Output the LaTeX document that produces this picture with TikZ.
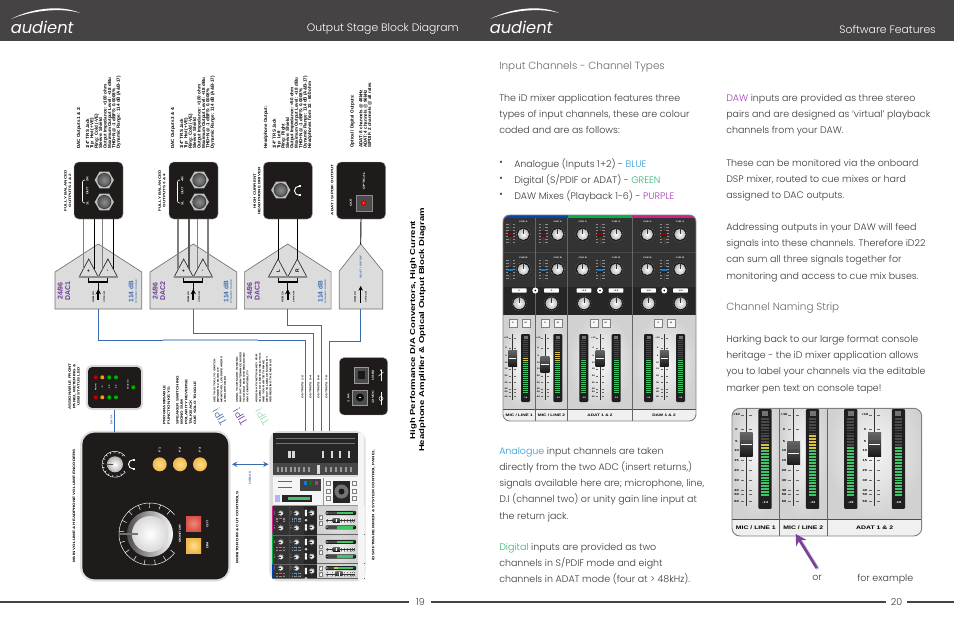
\documentclass[tikz,border=0pt]{standalone}
\usepackage{fontspec}
\setmainfont{Poppins}[UprightFont=* Light,ItalicFont=* Italic,BoldFont=* Medium]
\newfontfamily\armfont{Liberation Sans}[FakeStretch=1.35]
\newfontfamily\rawfont{Liberation Sans}
\usetikzlibrary{arrows.meta,calc}

\definecolor{headgrey}{HTML}{464344}
\definecolor{bodygrey}{HTML}{3A3A3A}
\definecolor{headline}{HTML}{6A6A6A}
\definecolor{panelblack}{HTML}{1E1B1A}
\definecolor{wireblue}{HTML}{3A6DAF}
\definecolor{pentagrey}{HTML}{DCDCDC}
\definecolor{dacpurple}{HTML}{6B3A96}
\definecolor{textblue}{HTML}{2E9BD6}
\definecolor{textgreen}{HTML}{2FB56E}
\definecolor{textpurple}{HTML}{A63DB8}
\definecolor{tipgreen}{HTML}{86E3A6}
\definecolor{metregrn}{HTML}{3FC46A}
\definecolor{metreyel}{HTML}{E0C040}
\definecolor{metreoff}{HTML}{4A4A4A}
\definecolor{desk}{HTML}{333333}
\definecolor{arrowpurple}{HTML}{7B3FA0}
\definecolor{keyin}{HTML}{FFE08A}
\definecolor{keyout}{HTML}{F2B64C}
\definecolor{redin}{HTML}{F08A7A}
\definecolor{redout}{HTML}{D9534A}

\tikzset{
  bodytext/.style={anchor=north west,inner sep=0,align=left,text=bodygrey,font=\fontsize{7.1}{12.15}\selectfont},
  headtext/.style={anchor=north west,inner sep=0,text=headline,font=\fontsize{7.8}{10}\selectfont},
  lab/.style={rotate=90,inner sep=0,align=center,text=black,font=\armfont\bfseries\fontsize{2.5}{3.3}\selectfont},
  notes/.style={rotate=90,anchor=north west,inner sep=0,align=left,text=black,font=\rawfont\bfseries\fontsize{3.4}{3.3}\selectfont},
  whitelab/.style={rotate=90,inner sep=0,align=center,text=white,font=\armfont\bfseries\fontsize{2.1}{3}\selectfont},
  panelbox/.style={fill=panelblack,draw=black!35,line width=.3pt,rounded corners=3.5pt,inner sep=0,minimum width=36.75pt,minimum height=42.75pt},
  bluewire/.style={draw=wireblue,line width=.7pt},
  penta/.style={fill=pentagrey,draw=black!55,line width=.5pt},
  tiny/.style={inner sep=0,transform shape,font=\armfont\bfseries\fontsize{1.5}{2}\selectfont},
  tipmark/.style={rotate=120,inner sep=0,font=\fontsize{8.2}{9}\selectfont},
  tipnote/.style={notes,font=\armfont\bfseries\fontsize{1.8}{2.6}\selectfont},
}

% ---- bits of the rotated hardware
\newcommand{\jacknut}[2]{%
  \fill[black!25,shift={(#1,#2)}] (0:9.6)--(60:9.6)--(120:9.6)--(180:9.6)--(240:9.6)--(300:9.6)--cycle;
  \fill[black!75] (#1,#2) circle (7);
  \shade[inner color=black!45,outer color=black!65] (#1,#2) circle (6);
}
\newcommand{\earcups}[2]{%
  \draw[white,line width=.7pt] (#1,#2) ++(90:4.5) arc (90:270:4.5);
  \fill[white] (#1,#2) ++(0,-5.5) rectangle ++(2.4,2);
  \fill[white] (#1,#2) ++(0,3.5) rectangle ++(2.4,2);
}
\newcommand{\encoderring}[3]{% x, y, radius
  \draw[white,line width=.35pt] (#1,#2) ++(38:#3) arc (38:322:#3);
  \foreach \a in {38,59,...,322}
    \draw[white,line width=.35pt,shift={(#1,#2)}] (\a:#3) -- (\a:#3*0.84);
}
\newcommand{\dacblock}[5]{% name, x, label, sign a, sign b
  \begin{scope}[shift={(#2,0)}]
    \coordinate (#1tip) at (0,244);
    \coordinate (#1foot) at (0,309);
    \draw[penta] (-43.3,272) -- (#1tip) -- (43.4,272) -- (43.4,309) -- (-43.3,309) -- cycle;
    \coordinate (#1ta) at (-9.6,259);
    \coordinate (#1tb) at (9.6,259);
    \coordinate (#1mid) at (0,282);
    \draw[black,line width=.8pt] (#1ta) -- (-9.6,282) -- (9.6,282) -- (#1tb);
    \draw[fill=pentagrey,draw=black!85,line width=.5pt] (#1ta) -- (0,277) -- (-19.2,277) -- cycle;
    \draw[fill=pentagrey,draw=black!85,line width=.5pt] (#1tb) -- (19.2,277) -- (0,277) -- cycle;
    \draw[black!45,line width=1pt] (-19.2,277) -- (19.2,277);
    \node[rotate=90,inner sep=0,font=\rawfont\bfseries\fontsize{3.6}{4}\selectfont] (#1sa) at (-9.6,271) {#4};
    \node[rotate=90,inner sep=0,font=\rawfont\bfseries\fontsize{3.6}{4}\selectfont] (#1sb) at (9.6,271) {#5};
    \fill[black] (#1mid) circle (1);
    \draw[black,line width=.7pt] (#1mid) -- (0,290);
    \draw[black,line width=1.5pt,{Stealth[length=4pt,width=4pt]}-] (0,289) -- (0,300);
    \node[rotate=90,inner sep=0,align=center,text=dacpurple,font=\rawfont\bfseries\fontsize{5.2}{5.6}\selectfont] (#1name) at (-34.4,291) {#3};
    \node[rotate=90,inner sep=0,text=wireblue,font=\rawfont\bfseries\fontsize{4.9}{5}\selectfont] (#1db) at (32.7,291.5) {114 dB};
    \node[rotate=90,inner sep=0,text=wireblue,font=\armfont\bfseries\fontsize{1.5}{2}\selectfont] (#1range) at (37.8,291.5) {DYNAMIC RANGE};
    \node[rotate=90,inner sep=0,font=\armfont\bfseries\fontsize{1.7}{2}\selectfont] (#1usb) at (-5,297) {USB2.0};
    \node[rotate=90,inner sep=0,font=\armfont\bfseries\fontsize{1.4}{2}\selectfont] (#1stream) at (6,297) {STREAM};
  \end{scope}
}
% ---- bits of the mixer, drawn in the coordinates of the page 20 mixer
\newcommand{\cueknob}[3]{% x, y, radius
  \fill[black!90] (#1,#2) circle (#3+1.2);
  \draw[white!70!black,line width=.25pt,dash pattern=on .35pt off .9pt] (#1,#2) circle (#3+1.4);
  \shade[inner color=white,outer color=black!28] (#1,#2) circle (#3);
  \fill[black!80] (#1-.35,#2) rectangle (#1+.35,#2-#3+.4);
}
\newcommand{\cuefader}[3]{% x, y, colour
  \fill[black!75] (#1-.5,#2-11) rectangle (#1+.5,#2+11);
  \foreach \t in {-10,-7,-4,-1,2,5,8}{
    \fill[black!45] (#1-4.5,#2+\t) rectangle (#1-2,#2+\t+.5);
    \fill[black!45] (#1+2,#2+\t) rectangle (#1+4.5,#2+\t+.5);
  }
  \fill[black!85] (#1-2.6,#2-3) rectangle (#1+2.6,#2+3);
  \fill[#3] (#1-2.6,#2-.8) rectangle (#1+2.6,#2+.8);
}
\newcommand{\levelmeter}[4]{% x, yellow from, green from, number
  \fill[black!88,rounded corners=.8pt] (#1,334) rectangle (#1+9,402);
  \fill[black!55] (#1+2.5,335.5) rectangle (#1+6.5,338.5);
  \foreach \s in {340,342,...,392}{
    \ifnum\s<#2 \def\segcol{metreoff}\else\ifnum\s<#3 \def\segcol{metreyel}\else\def\segcol{metregrn}\fi\fi
    \fill[\segcol] (#1+2,\s) rectangle (#1+7,\s+1.3);
  }
  \node[tiny,text=white] (metrenum) at (#1+4.5,397.5) {#4};
}
\newcommand{\faderstrip}[2]{% rail x, cap top
  \foreach \y/\t in {338/+10,347.8/0,356.3/5,362.4/10,369.2/15,376/20,382.4/30,389.2/40,392.1/50,396.6/60}{
    \node[tiny] (scalemark) at (#1-6.6,\y) {\t};
    \fill[black!60] (#1-3.6,\y-.2) rectangle (#1-1.6,\y+.2);
    \fill[black!60] (#1+1.6,\y-.2) rectangle (#1+3.6,\y+.2);
  }
  \fill[black!80] (#1-.5,334) rectangle (#1+.5,400);
  \shade[top color=black!60,bottom color=black!90] (#1-4.4,#2) rectangle (#1+4.4,#2+16);
  \fill[black!65] (#1-4.4,#2+4) rectangle (#1+4.4,#2+5);
  \fill[white] (#1-3.6,#2+8) rectangle (#1+3.6,#2+8.8);
}
\newcommand{\mixerfaders}{%
  \foreach \xa/\xb in {503/535.3,535.3/567.7,567.7/632.3,632.3/696}
    \shade[inner color=black!4,outer color=black!18] (\xa,315) rectangle (\xb,409);
  \fill[black!6] (503,409) rectangle (696,421);
  \draw[black!70,line width=.4pt] (503,409) -- (696,409);
  \foreach \x in {535.3,567.7,632.3}
    \draw[black!60,line width=.4pt] (\x,315) -- (\x,421);
  \faderstrip{512.7}{350}\levelmeter{521}{357}{361}{-14}
  \faderstrip{545}{356}\levelmeter{553.3}{352}{361}{-13}
  \faderstrip{600}{350}\levelmeter{579.3}{359}{360}{-19}\levelmeter{611.7}{359}{360}{-19}
  \faderstrip{664.3}{350}\levelmeter{644}{359}{360}{-19}\levelmeter{676}{359}{360}{-19}
  \node[tiny,font=\armfont\bfseries\fontsize{2.6}{3}\selectfont] (tapea) at (519.2,415) {MIC / LINE 1};
  \node[tiny,font=\armfont\bfseries\fontsize{2.6}{3}\selectfont] (tapeb) at (551.5,415) {MIC / LINE 2};
  \node[tiny,font=\armfont\bfseries\fontsize{2.6}{3}\selectfont] (tapec) at (600,415) {ADAT 1 \& 2};
  \node[tiny,font=\armfont\bfseries\fontsize{2.6}{3}\selectfont] (taped) at (664,415) {DAW 1 \& 2};
}
\newcommand{\mixerdesk}{%
  \fill[desk] (503,215) rectangle (696,287);
  \fill[black!85] (503,287) rectangle (696,315);
  \fill[black!72] (503,252) rectangle (696,253);
  \fill[blue!60!cyan!70!black] (503,215) rectangle (567.7,218);
  \fill[green!60!cyan!70!black] (567.7,215) rectangle (632.3,218);
  \fill[magenta!85!black] (632.3,215) rectangle (696,218);
  \foreach \x in {535.3,567.7,632.3}
    \fill[black!60] (\x-.3,218) rectangle (\x+.3,315);
  \foreach \x in {523.3,557.7,582.7,616,647.3,680}{
    \node[tiny,text=white] (cuea) at (\x,221.5) {CUE A};
    \node[tiny,text=white] (cueb) at (\x,257.5) {CUE B};
    \cueknob{\x}{234.3}{5.6}
    \cueknob{\x}{269.3}{5.6}
  }
  \foreach \x in {510.7,543.3,600,664}{
    \cuefader{\x}{234}{red!60!black}
    \cuefader{\x}{270}{cyan!60!blue}
  }
  \foreach \x/\v in {519.2/0,551.5/0,584/-4.0,616/-4.0,648.5/-4.0,680.5/-4.0}{
    \fill[white,rounded corners=.5pt] (\x-7.4,288.3) rectangle (\x+7.4,292.7);
    \node[tiny,text=black] (panval) at (\x,290.5) {\v};
    \cueknob{\x}{303.3}{5.8}
  }
  \foreach \x in {535.3,600,664.3}{
    \fill[white] (\x,290.5) circle (3);
    \fill[black] (\x,290.5) circle (.9);
  }
  \foreach \x/\t in {512.7/S,525.7/M,545/S,558/M,594/S,605.7/M,658.3/S,671/M}{
    \node[tiny,draw=black!50,line width=.25pt,fill=black!3,minimum size=6pt,text=black!80] (solomute) at (\x,322.7) {\t};
  }
}
\newcommand{\audlogo}[1]{%
  \begin{scope}[shift={(#1,0)}]
    \fill[white] (11,19) .. controls (30,9) and (60,4) .. (80,13) .. controls (60,7) and (30,11) .. (11,19) -- cycle;
    \node[inner sep=0,anchor=base west,text=white,font=\itshape\fontsize{12.2}{14}\selectfont] (logo) at (10.5,33) {audient};
  \end{scope}
}

\begin{document}
\begin{tikzpicture}[x=0.75pt,y=-0.75pt]
\useasboundingbox (0,0) rectangle (954,637);
\fill[white] (0,0) rectangle (954,637);

% header and footer
\fill[headgrey] (0,0) rectangle (954,41);
\audlogo{0}
\audlogo{479}
\node[anchor=east,inner sep=0,text=white,font=\fontsize{8.1}{10}\selectfont] (titlea) at (459,29) {Output Stage Block Diagram};
\node[anchor=east,inner sep=0,text=white,font=\fontsize{8.1}{10}\selectfont] (titleb) at (936,29) {Software Features};
\node[inner sep=0,text=black!75,font=\fontsize{7.2}{9}\selectfont] (pagea) at (420.5,602) {19};
\node[inner sep=0,text=black!75,font=\fontsize{7.2}{9}\selectfont] (pageb) at (896.5,602) {20};
\coordinate (fa) at (0,602);
\coordinate (fb) at (409,602);
\coordinate (fc) at (431,602);
\coordinate (fd) at (886,602);
\coordinate (fe) at (907,602);
\coordinate (ff) at (954,602);
\draw[headgrey,line width=1pt] (fa) -- (fb);
\draw[headgrey,line width=1pt] (fc) -- (fd);
\draw[headgrey,line width=1pt] (fe) -- (ff);

% --- left page, rotated block diagram
\dacblock{daca}{98.3}{24/96\\DAC1}{+}{-}
\dacblock{dacb}{193.3}{24/96\\DAC2}{+}{-}
\dacblock{dacc}{287.7}{24/96\\DAC3}{L}{R}

\node[panelbox] (boxa) at (98.5,190.5) {};
\node[panelbox] (boxb) at (193.5,190.5) {};
\node[panelbox] (boxc) at (287.8,190.5) {};
\node[panelbox] (boxd) at (361,190.5) {};

\coordinate (a1) at (83.3,219);
\coordinate (a2) at (94.3,219);
\coordinate (a3) at (102.7,219);
\coordinate (a4) at (113.3,219);
\coordinate (a1t) at (83.3,269);
\coordinate (a2t) at (94.3,269);
\coordinate (a3t) at (102.7,269);
\coordinate (a4t) at (113.3,269);
\draw[black!50,line width=.8pt] (a1) -- (a1t);
\draw[black,line width=.8pt] (a2) -- (a2t);
\draw[black!50,line width=.8pt] (a3) -- (a3t);
\draw[black,line width=.8pt] (a4) -- (a4t);
\coordinate (b1) at (178,219);
\coordinate (b2) at (189,219);
\coordinate (b3) at (197.4,219);
\coordinate (b4) at (208,219);
\coordinate (b1t) at (178,269);
\coordinate (b2t) at (189,269);
\coordinate (b3t) at (197.4,269);
\coordinate (b4t) at (208,269);
\draw[black!50,line width=.8pt] (b1) -- (b1t);
\draw[black!65,line width=.8pt] (b2) -- (b2t);
\draw[black!50,line width=.8pt] (b3) -- (b3t);
\draw[black!50,line width=.8pt] (b4) -- (b4t);
\coordinate (c1) at (278.1,219);
\coordinate (c2) at (297.3,219);
\draw[black,line width=.8pt] (c1) -- (daccta);
\draw[black,line width=.8pt] (c2) -- (dacctb);

% adat block
\coordinate (optitip) at (360.7,244);
\coordinate (optifoot) at (360.7,309);
\draw[penta] (339.3,271) -- (optitip) -- (382.7,271) -- (382.7,309) -- (339.3,309) -- cycle;
\draw[black,line width=.7pt] (boxd.south) -- (optitip);
\draw[black,line width=.9pt,-{Stealth[length=3.5pt,width=3.5pt]}] (360.7,303) -- (360.7,286);
\node[rotate=90,inner sep=0,text=wireblue,font=\armfont\bfseries\fontsize{1.9}{2.5}\selectfont] (adattxt) at (360.7,267) {ADAT / S/PDIF};
\node[rotate=90,inner sep=0,font=\armfont\bfseries\fontsize{1.7}{2}\selectfont] (adatusb) at (355,297) {USB2.0};
\node[rotate=90,inner sep=0,font=\armfont\bfseries\fontsize{1.4}{2}\selectfont] (adatstream) at (366,297) {STREAM};

% inside of output boxes
\jacknut{104.3}{180}\jacknut{104.3}{202}
\jacknut{199.3}{180}\jacknut{199.3}{202}
\jacknut{280.7}{190}
\earcups{299}{190.7}
\foreach \x/\tl/\tr in {98.5/1L/2R,193.5/3L/4R}{
  \draw[white,line width=.4pt,rounded corners=1.5pt] (\x-13.5,203) -- (\x-16,203) -- (\x-16,180) -- (\x-13.5,180);
  \node[whitelab] (outlbl) at (\x-11,191) {OUT};
  \node[whitelab] (leftlbl) at (\x-11,203.5) {\tl};
  \node[whitelab] (rightlbl) at (\x-11,179.5) {\tr};
}
\fill[black!70,draw=black!45,line width=.3pt] (356,195) rectangle (371.7,210.7);
\fill[red!85!black] (363.7,203) circle (2.8);
\fill[red!40!white] (363.7,203) circle (.8);
\node[whitelab] (optout) at (351,202.7) {OUT};
\node[whitelab] (opttxt) at (364,180.7) {OPTICAL};

\node[lab] (laba) at (67.8,190.7) {FULLY BALANCED\\OUTPUTS 1 \& 2};
\node[lab] (labb) at (162,190.7) {FULLY BALANCED\\OUTPUTS 3 \& 4};
\node[lab] (labc) at (257,191) {HIGH CURRENT\\HEADPHONE DRIVER};
\node[lab] (labd) at (332.3,190) {ADAT / S/PDIF OUTPUT};

\node[notes] (notea) at (76.8,149) {DAC Outputs 1 \& 2:\\ \\1/4" TRS Jack\\Tip: Hot (+VE)\\Ring: Cold (-VE)\\Sleeve: Shield\\Output Impedance: <100 ohm\\Maximum Output Level: +18 dBu\\THD+N @ -1 dBFS: 0.0008\%\\Dynamic Range: 114 dB (A\&B-17)};
\node[notes] (noteb) at (170.8,149) {DAC Outputs 3 \& 4:\\ \\1/4" TRS Jack\\Tip: Hot (+VE)\\Ring: Cold (-VE)\\Sleeve: Shield\\Output Impedance: <100 ohm\\Maximum Output Level: +18 dBu\\THD+N @ -1 dBFS: 0.0008\%\\Dynamic Range: 114 dB (A\&B-17)};
\node[notes] (notec) at (263.5,149) {Headphone Output:\\ \\1/4" TRS Jack\\Tip: Left\\Ring: Right\\Sleeve: Shield\\Output Impedance: <50 ohm\\Maximum Output Level: +18 dBu\\THD+N @ -1 dBFS: 0.0008\%\\Dynamic Range: 114 dB (A\&B-17)\\Headphones from 32 - 600 ohm};
\node[notes] (noted) at (350,148) {Optical / Digital Outputs:\\ \\ADAT: 8 channels @ 48kHz\\ADAT: 4 channels @ 96kHz\\S/PDIF: 2 channels @ all rates};

% wires down to the mixer
\coordinate (wa) at (305.7,431);
\coordinate (wb) at (313.3,431);
\coordinate (wc) at (321.7,431);
\coordinate (wd) at (329.3,431);
\draw[bluewire] (dacafoot) -- (98.3,340) -- (305.7,340) -- (wa);
\draw[draw=wireblue!45,line width=.8pt] (163,340) -- (258,340);
\draw[bluewire] (dacbfoot) -- (193.3,333.5) -- (313.3,333.5) -- (wb);
\draw[bluewire] (daccfoot) -- (287.7,325.7) -- (321.7,325.7) -- (wc);
\draw[bluewire] (optifoot) -- (360.7,341) -- (329.3,341) -- (wd);
\node[lab,font=\armfont\bfseries\fontsize{1.9}{3}\selectfont] (outa) at (302.5,387) {OUTPUTS 1-2};
\node[lab,font=\armfont\bfseries\fontsize{1.9}{3}\selectfont] (outb) at (310.5,387) {OUTPUTS 3-4};
\node[lab,font=\armfont\bfseries\fontsize{1.9}{3}\selectfont] (outc) at (318.5,387) {OUTPUTS 5-6};
\node[lab,font=\armfont\bfseries\fontsize{1.9}{3}\selectfont] (outd) at (326.5,387) {OUTPUTS 7-8};

% usb and power panel
\node[panelbox,minimum width=36.3pt,minimum height=43pt] (usbbox) at (363.5,386.3) {};
\fill[black!70,draw=black!40,line width=.3pt] (354,367) rectangle (368,383);
\fill[black!90] (357.5,371) rectangle (364.5,379);
\fill[black!70,draw=black!40,line width=.3pt] (352.5,390) rectangle (367.5,405);
\fill[black!95] (360,397.5) circle (4);
\fill[white] (360,397.5) circle (.8);
\node[whitelab] (usbtxt) at (373,375) {USB2};
\node[whitelab] (pwrtxt) at (373,397) {12VDC};
\node[whitelab] (amptxt) at (348.5,398) {1.5A};
\draw[white,line width=.35pt,-{Stealth[length=1.5pt,width=1.5pt]}] (381,381) -- (381,369);
\draw[white,line width=.35pt] (378.5,376) -- (381,374) -- (383.5,372);
\draw[white,line width=.35pt] (381,392) -- (381,405);
\draw[white,line width=.35pt] (381,398.5) circle (2);

% monitor panel
\fill[black!12,rounded corners=11pt] (80,430.5) rectangle (230.5,581.5);
\node[panelbox,minimum width=109.5pt,minimum height=110pt,rounded corners=9pt,draw=none] (monpanel) at (155.3,506) {};
\encoderring{150}{534}{31}
\shade[left color=black!70,right color=black!3] (150,534) circle (23);
\shade[inner color=white,outer color=black!15] (150,534) circle (18);
\coordinate (mona) at (119,534);
\coordinate (monb) at (138,534);
\draw[black!55,line width=1.2pt] (mona) -- (monb);
\encoderring{115}{464.3}{13}
\shade[inner color=white,outer color=black!30] (115,464.3) circle (8);
\coordinate (hpa) at (106,464.3);
\coordinate (hpb) at (113,464.3);
\draw[black!70,line width=1pt] (hpa) -- (hpb);
\earcups{133}{464.3}
\shade[inner color=keyin,outer color=keyout] (159.7,464.3) circle (7);
\shade[inner color=keyin,outer color=keyout] (180,464.3) circle (7);
\shade[inner color=keyin,outer color=keyout] (200,464.3) circle (7);
\node[whitelab] (keya) at (159.7,450) {F1};
\node[whitelab] (keyb) at (180,450) {F2};
\node[whitelab] (keyc) at (200,450) {F3};
\shade[inner color=redin,outer color=redout] (186,516) rectangle (201,531);
\shade[inner color=keyin,outer color=keyout] (186,538) rectangle (201,553);
\node[whitelab] (cuttxt) at (207.5,524) {CUT};
\node[whitelab] (dimtxt) at (207.5,545.5) {DIM};
\node[whitelab] (montxt) at (180,534) {MONITOR};

% meter panel
\node[panelbox,fill=panelblack,draw=black!15,line width=1.5pt,minimum width=41.5pt,minimum height=32.5pt,rounded corners=4pt] (metrepanel) at (114.5,387.5) {};
\foreach \yy in {377.3,397.3}{
  \fill[red!75!black] (95.7,\yy) circle (2);
  \fill[orange!80!yellow] (102.3,\yy) circle (2);
  \fill[green!70!black] (109.3,\yy) circle (2);
  \fill[green!70!black] (116,\yy) circle (2);
}
\fill[green!70!black] (133.3,387.3) circle (2);
\foreach \x/\t in {95.7/PEAK,102.3/-6,109.3/-18,116/-36}
  \node[whitelab,font=\armfont\bfseries\fontsize{1.4}{2}\selectfont] (ledlbl) at (\x,387.3) {\t};
\node[whitelab,font=\armfont\bfseries\fontsize{1.4}{2}\selectfont] (statuslbl) at (128,385) {STATUS};
\coordinate (dataa) at (114.3,410);
\coordinate (datab) at (114.3,432);
\draw[bluewire] (dataa) -- (datab);
\node[lab,text=wireblue,font=\armfont\bfseries\fontsize{1.9}{3}\selectfont] (datatxt) at (111.5,420) {DATA};

% mixer panel
\fill[black!14,draw=black!12,line width=1pt,rounded corners=7pt] (270,431.7) rectangle (365,580.7);
\begin{scope}
  \clip (272.7,506) rectangle (365,578);
  \begin{scope}[shift={(175.25,819.2)},rotate=90,scale=.45]
    \mixerfaders
    \mixerdesk
  \end{scope}
\end{scope}
\fill[magenta!85!black] (271.5,506) rectangle (273,534);
\fill[green!60!cyan!70!black] (271.5,534) rectangle (273,563.5);
\fill[blue!60!cyan!70!black] (271.5,563.5) rectangle (273,578);
\fill[black!85] (272.7,433) rectangle (358,475);
\fill[black!72] (272.7,463) rectangle (358,475);
\foreach \yy in {438,443}
  \fill[black!55] (276,\yy) rectangle (355,\yy+.4);
\foreach \xx in {288.3,292.3,322,331,339,348}
  \fill[white!85!black] (\xx,451) rectangle (\xx+2.4,458);
\fill[white!85!black] (316.5,465) rectangle (319.5,474);
\foreach \xx in {277,281,285,290,294,298,303,308,325,330,335,340,345,350}
  \fill[black!40] (\xx,467) rectangle (\xx+2,472);
\fill[black!4] (272.7,477) rectangle (358,505.5);
\draw[black!40,line width=.3pt] (272.7,505.5) -- (358,505.5);
\draw[black!40,line width=.3pt] (323,478) -- (323,505);
\fill[black!4] (358,433) rectangle (364,580);
\fill[black!75] (300,479) rectangle (321,491);
\foreach \xx/\cc in {305/cyan!60!blue,310.5/green!50!black,316/magenta!60!black}
  \fill[\cc] (\xx-1.5,480.5) rectangle (\xx+1.5,485);
\fill[black!85] (282,495) rectangle (312,502);
\fill[metregrn] (288,497) rectangle (310,500);
\fill[black!60] (278,481) rectangle (292,482);
\fill[black!60] (278,487) rectangle (292,488);
\fill[black!85] (333,481) rectangle (350,503);
\fill[black!55] (341.5,491.5) circle (7);
\fill[black!90] (341.5,491.5) circle (3);
\foreach \yy in {483,491,498}{
  \draw[black!50,line width=.3pt] (326.5,\yy-2) rectangle (330.5,\yy+2);
  \draw[black!50,line width=.3pt] (352,\yy-2) rectangle (356,\yy+2);
}
\fill[white!70!blue] (274.5,495) rectangle (279.5,502);

\coordinate (usba) at (232,464.3);
\coordinate (usbb) at (268.5,464.3);
\draw[wireblue,line width=.8pt,{Stealth[length=4pt,width=4pt]}-{Stealth[length=4pt,width=4pt]}] (usba) -- (usbb);
\node[lab,text=wireblue,font=\armfont\bfseries\fontsize{2.1}{3}\selectfont] (usbtag) at (250,477.7) {USB2.0};

\node[lab] (mainlab) at (74,506) {MAIN VOLUME \& HEADPHONE VOLUME ENCODERS};
\node[lab] (dimlab) at (237.3,527.5) {MONITOR DIM \& CUT CONTROLS};
\node[lab] (mixlab) at (373.3,505.5) {iD SOFTWARE MIXER \& SYSTEM CONTROL PANEL};
\node[lab,anchor=north west,align=center] (meterlab) at (68.3,410) {ASSIGNABLE FRONT\\PANEL METERING \&\\USB STATUS LED};
\node[lab,anchor=north west,align=left] (keylab) at (162.8,425) {PROGRAMMABLE\\FUNCTION KEYS:\\ \\SPEAKER SWITCHING\\MONO SUM\\POLARITY REVERSE\\TALKBACK\\CUE SOLO TOGGLE};

\node[tipmark,text=wireblue] (tipa) at (220,416.5) {TIP!};
\node[tipmark,text=dacpurple] (tipb) at (240.5,416.7) {TIP!};
\node[tipmark,text=tipgreen] (tipc) at (262.7,416.7) {TIP!};
\node[tipnote] (tipatxt) at (213.5,403) {USE THIS TOOL TO SWITCH\\BETWEEN 2 PAIRS OF\\MONITORS, LOUDSPEAKERS\\\& HEADPHONES};
\node[tipnote] (tipbtxt) at (236,403) {USING YOUR MASH IN MONO\\WHY SAT MAINTENANCE MIXES\\TO CHECK FOR STEREO MONO\\ANY COMPATIBILITY};
\node[tipnote] (tipctxt) at (255.5,403) {ASSIGN A FUNCTION KEY FOR\\TALKBACK AND ROUTING YOU\\AND YOUR ARTISTS MAKE\\GREAT TALKBACK MIXES BY\\ADDRESSING THE MIX BUS};

\node[rotate=90,inner sep=0,align=center,font=\armfont\bfseries\fontsize{5.3}{6.9}\selectfont] (maintitle) at (417.8,330) {High Performance D/A Convertors, High Current\\Headphone Amplifier \& Optical Output Block Diagram};

% --- right page text
\node[headtext] (heada) at (499,61.5) {Input Channels - Channel Types};
\node[bodytext] (para) at (499,94) {The iD mixer application features three\\types of input channels, these are colour\\coded and are as follows:};
\node[bodytext] (bula) at (499,158.5) {\vphantom{A}\textbullet};
\node[bodytext] (bulb) at (499,174.5) {\vphantom{A}\textbullet};
\node[bodytext] (bulc) at (499,190.5) {\vphantom{A}\textbullet};
\node[bodytext] (lista) at (514,158.5) {Analogue (Inputs 1+2) - \textcolor{textblue}{BLUE}};
\node[bodytext] (listb) at (514,174.5) {Digital (S/PDIF or ADAT) - \textcolor{textgreen}{GREEN}};
\node[bodytext] (listc) at (514,190.5) {DAW Mixes (Playback 1-6) - \textcolor{textpurple}{PURPLE}};
\node[bodytext] (parb) at (499,447) {\textcolor{textblue}{Analogue} input channels are taken\\directly from the two ADC (insert returns,)\\signals available here are; microphone, line,\\D.I (channel two) or unity gain line input at\\the return jack.};
\node[bodytext] (parc) at (499,543) {\textcolor{textgreen}{Digital} inputs are provided as two\\channels in S/PDIF mode and eight\\channels in ADAT mode (four at > 48kHz).};
\node[bodytext] (pard) at (726,94) {\textcolor{textpurple}{DAW} inputs are provided as three stereo\\pairs and are designed as `virtual' playback\\channels from your DAW.};
\node[bodytext] (pare) at (726,159) {These can be monitored via the onboard\\DSP mixer, routed to cue mixes or hard\\assigned to DAC outputs.};
\node[bodytext] (parf) at (726,223) {Addressing outputs in your DAW will feed\\signals into these channels. Therefore iD22\\can sum all three signals together for\\monitoring and access to cue mix buses.};
\node[headtext] (headb) at (726,302.5) {Channel Naming Strip};
\node[bodytext] (parg) at (726,335) {Harking back to our large format console\\heritage - the iD mixer application allows\\you to label your channels via the editable\\marker pen text on console tape!};
\node[bodytext] (ortxt) at (812,574.5) {or};
\node[bodytext] (fortxt) at (857,574.5) {for example};

% page 20 mixer
\begin{scope}
  \clip[rounded corners=5pt] (503,215) rectangle (696,421);
  \mixerfaders
  \mixerdesk
\end{scope}
\draw[black!50,line width=.7pt,rounded corners=5pt] (503,215) rectangle (696,421);

% naming strip, same faders larger
\begin{scope}
  \clip[rounded corners=6pt] (732,408.3) rectangle (921.7,536);
  \begin{scope}[shift={(-7.4,-82)},scale=1.47]
    \mixerfaders
  \end{scope}
\end{scope}
\draw[black!50,line width=.7pt,rounded corners=6pt] (732,408.3) rectangle (921.7,536);

\coordinate (arrowa) at (816.7,568);
\coordinate (arrowb) at (795.7,534);
\draw[black!25,line width=2.4pt] (818,569) -- (797.5,536);
\draw[arrowpurple,line width=2pt,-{Stealth[length=8pt,width=9pt]}] (arrowa) -- (arrowb);
\end{tikzpicture}
\end{document}
